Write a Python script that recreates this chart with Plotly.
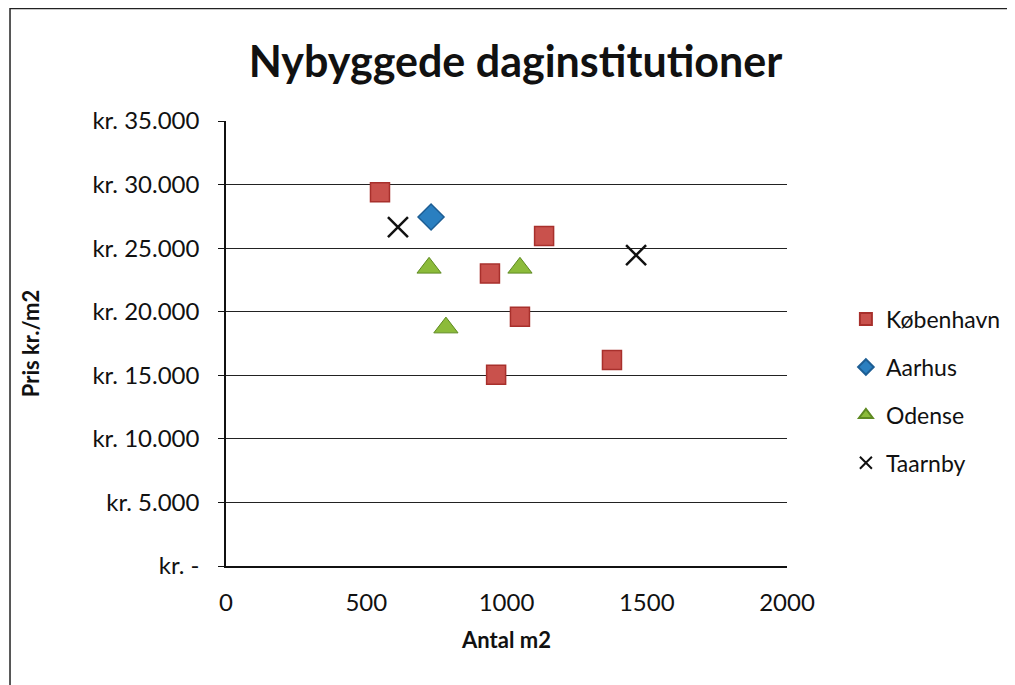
import plotly.graph_objects as go

# Data (Antal m2, Pris kr./m2)
kbh_x = [549, 1134, 941, 1048, 963, 1376]
kbh_y = [29400, 25950, 23000, 19600, 15050, 16200]
aarhus_x = [731]
aarhus_y = [27450]
odense_x = [724, 784, 1048]
odense_y = [23450, 18750, 23450]
taarnby_x = [613, 1462]
taarnby_y = [26650, 24450]

y_ticks = [0, 5000, 10000, 15000, 20000, 25000, 30000, 35000]
y_labels = ["kr. -", "kr. 5.000", "kr. 10.000", "kr. 15.000", "kr. 20.000",
            "kr. 25.000", "kr. 30.000", "kr. 35.000"]
x_ticks = [0, 500, 1000, 1500, 2000]

font_family = "Lato, 'Open Sans', sans-serif"

fig = go.Figure()
fig.add_trace(go.Scatter(
    x=kbh_x, y=kbh_y, mode="markers", name="København", legendgroup="a",
    marker=dict(symbol="square", size=19, color="#C9514C",
                line=dict(color="#A8302C", width=1.5))))
fig.add_trace(go.Scatter(
    x=aarhus_x, y=aarhus_y, mode="markers", name="Aarhus", legendgroup="b",
    marker=dict(symbol="diamond", size=20, color="#2A7FC0",
                line=dict(color="#1D5E94", width=1.5))))
fig.add_trace(go.Scatter(
    x=odense_x, y=odense_y, mode="markers", name="Odense", legendgroup="c",
    marker=dict(symbol="triangle-up", size=21, color="#8CBB3A",
                line=dict(color="#5E8A22", width=1))))
fig.add_trace(go.Scatter(
    x=taarnby_x, y=taarnby_y, mode="markers", name="Taarnby", legendgroup="d",
    marker=dict(symbol="x-thin", size=20, color="#111111",
                line=dict(color="#111111", width=2.5))))

fig.update_layout(
    width=1015, height=685,
    paper_bgcolor="white", plot_bgcolor="white",
    margin=dict(l=218, r=236, t=113, b=127),
    font=dict(family=font_family, size=24, color="#111111"),
    title=dict(text="<b>Nybyggede daginstitutioner</b>", x=0.5, xanchor="center",
               y=0.921, yanchor="middle",
               font=dict(family=font_family, size=43, color="#111111")),
    showlegend=True,
    legend=dict(x=1.105, y=0.603, xanchor="left", yanchor="top",
                traceorder="grouped", tracegroupgap=15,
                font=dict(size=23), bgcolor="rgba(0,0,0,0)",
                itemsizing="constant"),
    xaxis=dict(range=[0, 2000], tickvals=x_ticks, showgrid=False, zeroline=False,
               showline=True, linecolor="#111111", linewidth=1.5,
               ticks="", tickfont=dict(size=24), ticklabelstandoff=14,
               title=dict(text="<b>Antal m2</b>", font=dict(size=22), standoff=18)),
    yaxis=dict(range=[0, 35000], tickvals=y_ticks, ticktext=y_labels,
               showgrid=True, gridcolor="#222222", gridwidth=1.3, zeroline=False,
               showline=True, linecolor="#111111", linewidth=1.5,
               ticks="outside", ticklen=6, tickcolor="#111111",
               tickfont=dict(size=24), ticklabelstandoff=14,
               title=dict(text="<b>Pris kr./m2</b>", font=dict(size=22), standoff=47)),
)

fig.add_shape(type="rect", xref="paper", yref="paper",
              x0=-0.385, x1=1.5, y0=-0.3, y1=1.253,
              line=dict(color="#222222", width=1.5), fillcolor="rgba(0,0,0,0)")

fig.write_html("out.html")
